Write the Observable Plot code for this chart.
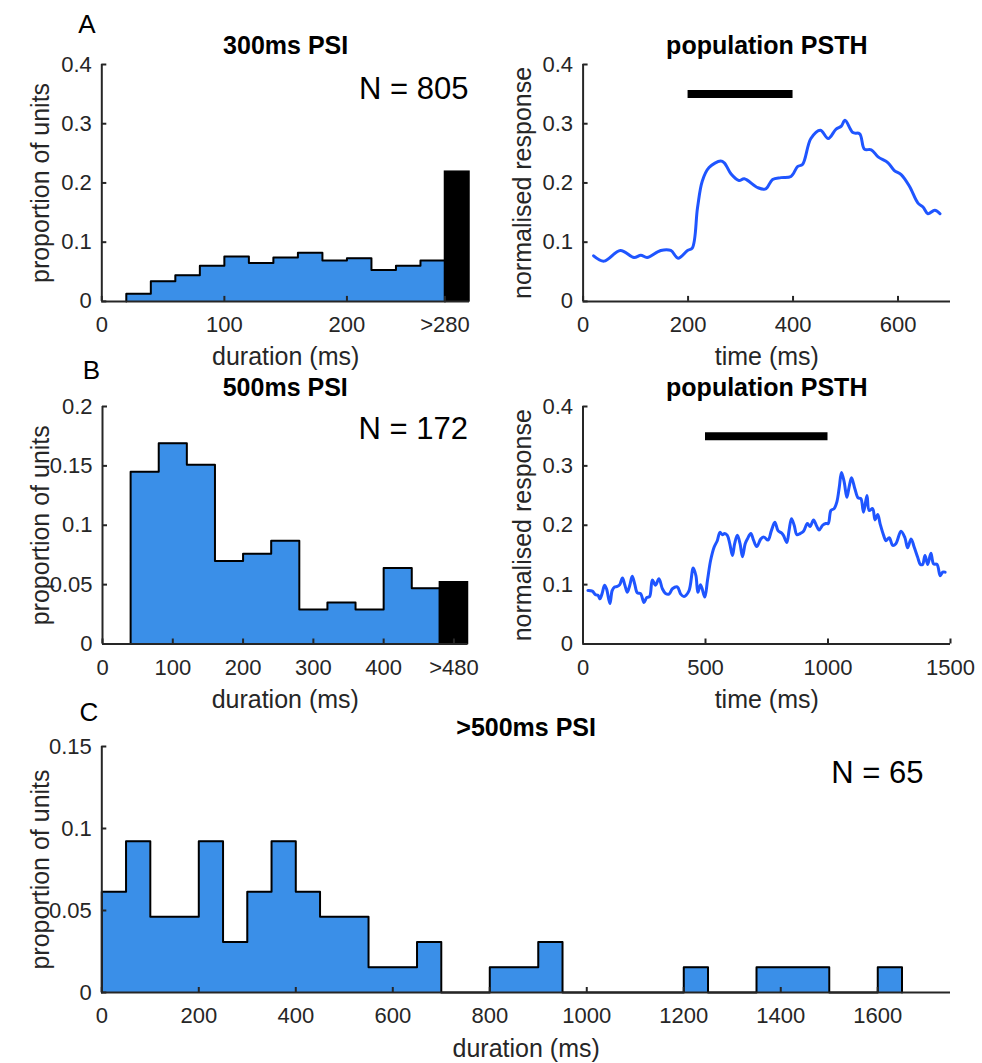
<!DOCTYPE html>
<html><head><meta charset="utf-8">
<script src="https://cdn.jsdelivr.net/npm/d3@7"></script>
<script src="https://cdn.jsdelivr.net/npm/@observablehq/plot@0.6"></script>
<style>
body{margin:0;background:#fff;}
#page{position:relative;width:982px;height:1063px;overflow:hidden;background:#fff;}
.pnl{position:absolute;}
.pnl svg{overflow:visible;}
</style></head><body><div id="page"></div>
<script>
// ---------- DATA ----------
// A: 300ms PSI histogram (bins of 20 ms)
const psi300BinStart = [20,40,60,80,100,120,140,160,180,200,220,240,260];
const psi300BinEnd   = [40,60,80,100,120,140,160,180,200,220,240,260,280];
const psi300Prop     = [0.013,0.034,0.044,0.060,0.076,0.065,0.074,0.082,0.069,0.073,0.053,0.060,0.069];
const psi300Overflow = [280,300,0.219];         // bin start, bin end, proportion (">280")
const psi300N = "N = 805";
const psi300XTicks = [0,100,200,280];
const psi300XLabels = ["0","100","200",">280"];
const psi300YTicks = [0,0.1,0.2,0.3,0.4];

// A: population PSTH (time ms, normalised response)
const psthA = [[20,0.077],[40,0.068],[71,0.086],[97,0.074],[110,0.078],[122,0.074],[148,0.086],[167,0.086],
 [181,0.073],[199,0.086],[208,0.090],[218,0.158],[227,0.203],[240,0.226],[262,0.237],[269,0.234],[282,0.215],
 [297,0.204],[307,0.207],[333,0.192],[348,0.190],[361,0.206],[377,0.209],[396,0.211],[409,0.228],[418,0.231],
 [434,0.275],[452,0.289],[467,0.275],[482,0.291],[492,0.296],[499,0.306],[514,0.285],[527,0.283],[536,0.257],
 [549,0.256],[562,0.244],[581,0.234],[593,0.221],[606,0.214],[622,0.194],[638,0.166],[648,0.159],[657,0.148],
 [670,0.154],[680,0.148]];
const stimA = [200,400,0.35];
const psthAXTicks = [0,200,400,600];
const psthYTicks = [0,0.1,0.2,0.3,0.4];

// B: 500ms PSI histogram (bins of 40 ms)
const psi500BinStart = [40,80,120,160,200,240,280,320,360,400,440];
const psi500BinEnd   = [80,120,160,200,240,280,320,360,400,440,480];
const psi500Prop     = [0.145,0.169,0.151,0.070,0.076,0.087,0.029,0.035,0.029,0.064,0.047];
const psi500Overflow = [480,520,0.052];
const psi500N = "N = 172";
const psi500XTicks = [0,100,200,300,400,500];
const psi500XLabels = ["0","100","200","300","400",">480"];
const psi500YTicks = [0,0.05,0.1,0.15,0.2];

// B: population PSTH
const psthB = [[20,0.090],[38,0.089],[51,0.083],[61,0.082],[69,0.076],[78,0.085],[88,0.099],[96,0.093],[110,0.068],
 [119,0.090],[129,0.096],[140,0.097],[150,0.100],[161,0.111],[171,0.099],[181,0.087],[191,0.099],[201,0.114],
 [211,0.101],[222,0.086],[235,0.085],[249,0.070],[260,0.078],[272,0.080],[283,0.108],[296,0.099],[310,0.110],
 [324,0.093],[337,0.085],[351,0.084],[365,0.093],[385,0.096],[399,0.084],[412,0.080],[432,0.089],[450,0.128],
 [461,0.115],[469,0.087],[480,0.100],[497,0.079],[508,0.107],[521,0.141],[535,0.163],[548,0.174],[559,0.188],
 [569,0.184],[578,0.186],[589,0.183],[599,0.169],[610,0.149],[619,0.169],[630,0.183],[641,0.169],[651,0.147],
 [662,0.169],[671,0.177],[685,0.186],[696,0.175],[709,0.164],[726,0.177],[739,0.180],[755,0.175],[769,0.191],
 [783,0.205],[796,0.191],[810,0.187],[818,0.183],[832,0.171],[841,0.191],[851,0.211],[862,0.200],[873,0.184],
 [886,0.186],[900,0.190],[916,0.203],[927,0.198],[941,0.209],[952,0.200],[964,0.192],[978,0.200],[991,0.203],
 [1001,0.203],[1012,0.225],[1025,0.228],[1036,0.239],[1046,0.264],[1055,0.289],[1066,0.273],[1077,0.247],
 [1086,0.264],[1096,0.280],[1110,0.261],[1123,0.246],[1134,0.245],[1145,0.222],[1159,0.250],[1168,0.225],
 [1182,0.228],[1192,0.209],[1203,0.218],[1213,0.202],[1227,0.183],[1237,0.174],[1250,0.179],[1264,0.166],
 [1277,0.169],[1298,0.190],[1314,0.179],[1325,0.162],[1339,0.177],[1352,0.163],[1366,0.146],[1377,0.134],
 [1386,0.134],[1396,0.149],[1407,0.134],[1420,0.153],[1431,0.135],[1445,0.134],[1458,0.115],[1468,0.121],[1478,0.121]];
const stimB = [500,1000,0.35];
const psthBXTicks = [0,500,1000,1500];

// C: >500ms PSI histogram (bins of 50 ms)
const psiLongBinStart = [0,50,100,150,200,250,300,350,400,450,500,550,600,650,700,750,800,850,900,950,1000,1050,1100,1150,1200,1250,1300,1350,1400,1450,1500,1550,1600];
const psiLongProp = [0.0615,0.0923,0.0462,0.0462,0.0923,0.0308,0.0615,0.0923,0.0615,0.0462,0.0462,0.0154,0.0154,0.0308,0,0,0.0154,0.0154,0.0308,0,0,0,0,0,0.0154,0,0,0.0154,0.0154,0.0154,0,0,0.0154];
const psiLongBinWidth = 50;
const psiLongN = "N = 65";
const psiLongXTicks = [0,200,400,600,800,1000,1200,1400,1600];
const psiLongYTicks = [0,0.05,0.1,0.15];

// ---------- STYLE ----------
const AX = "#262626";
const FONT = '"Liberation Sans", Arial, Helvetica, sans-serif';
const BAR = "#3a8fe8";
const LINE = "#1f55ff";

function histMarks(starts, ends, props, overflow) {
  const bins = starts.map((s, i) => ({x1: s, x2: ends[i], v: props[i]}));
  const pts = [{x: starts[0], y: 0}];
  bins.forEach(b => pts.push({x: b.x1, y: b.v}));
  pts.push({x: bins[bins.length - 1].x2, y: bins[bins.length - 1].v});
  pts.push({x: bins[bins.length - 1].x2, y: 0});
  const marks = [
    Plot.areaY(pts, {x: "x", y: "y", curve: "step-after", fill: BAR}),
    Plot.line(pts, {x: "x", y: "y", curve: "step-after", stroke: "black", strokeWidth: 2})
  ];
  if (overflow) {
    marks.push(Plot.rect([{x1: overflow[0], x2: overflow[1], v: overflow[2]}],
      {x1: "x1", x2: "x2", y1: 0, y2: "v", fill: "black", stroke: "black", strokeWidth: 1.5}));
  }
  return marks;
}

function psthMarks(series, stim) {
  return [
    Plot.ruleY([stim[2]], {x1: stim[0], x2: stim[1], stroke: "black", strokeWidth: 8}),
    Plot.line(series, {x: d => d[0], y: d => d[1], stroke: LINE, strokeWidth: 3, curve: "catmull-rom"})
  ];
}

function panel(o) {
  const fw = o.width - o.mL - o.mR, fh = o.height - o.mT - o.mB;
  const xLab = new Map(o.xTicks.map((t, i) => [t, o.xLabels ? o.xLabels[i] : String(t)]));
  const marks = [
    ...o.marks,
    Plot.ruleX([o.xDomain[0]], {stroke: AX, strokeWidth: 2}),
    Plot.ruleY([o.yDomain[0]], {stroke: AX, strokeWidth: 2}),
    Plot.tickY(o.yTicks, {y: d => d, stroke: AX, strokeWidth: 2, insetRight: fw - 5}),
    Plot.tickX(o.xTicks, {x: d => d, stroke: AX, strokeWidth: 2, insetTop: fh - 5}),
    Plot.axisX(o.xTicks, {tickSize: 0, tickPadding: 15, tickFormat: d => xLab.get(d), fontSize: 22, label: null, fill: AX}),
    Plot.axisY(o.yTicks, {tickSize: 0, tickPadding: 10, tickFormat: d => String(d), fontSize: 22, label: null, fill: AX}),
    Plot.text([o.title], {frameAnchor: "top", dy: -19, text: d => d, fontSize: 25, fontWeight: "bold", fill: "black", lineAnchor: "middle"}),
    Plot.text([o.xLabel], {frameAnchor: "bottom", dy: 56, text: d => d, fontSize: 25, fill: AX, lineAnchor: "middle"}),
    Plot.text([o.yLabel], {frameAnchor: "left", dx: o.yLabelDx, rotate: -90, text: d => d, fontSize: 25, fill: AX, lineAnchor: "middle", textAnchor: "middle"})
  ];
  if (o.nText) marks.push(Plot.text([o.nText], {frameAnchor: "top-right", dx: o.nDx, dy: o.nDy, text: d => d, fontSize: 31, fill: "black", textAnchor: "end", lineAnchor: "middle"}));
  if (o.letter) marks.push(Plot.text([o.letter], {frameAnchor: "top-left", dx: o.letterDx, dy: o.letterDy, text: d => d, fontSize: 26, fill: "black", textAnchor: "middle", lineAnchor: "middle"}));
  const chart = Plot.plot({
    width: o.width, height: o.height,
    marginLeft: o.mL, marginRight: o.mR, marginTop: o.mT, marginBottom: o.mB,
    x: {domain: o.xDomain}, y: {domain: o.yDomain},
    style: {fontFamily: FONT, background: "transparent", color: AX, overflow: "visible"},
    marks
  });
  const div = document.createElement("div");
  div.className = "pnl";
  div.style.left = o.left + "px";
  div.style.top = o.top + "px";
  div.appendChild(chart);
  document.getElementById("page").appendChild(div);
}

// A left
panel({left: 0, top: 0, width: 490, height: 375, mL: 101.3, mR: 21, mT: 64, mB: 74.1,
  xDomain: [0, 300], yDomain: [0, 0.4], xTicks: psi300XTicks, xLabels: psi300XLabels, yTicks: psi300YTicks,
  marks: histMarks(psi300BinStart, psi300BinEnd, psi300Prop, psi300Overflow),
  title: "300ms PSI", xLabel: "duration (ms)", yLabel: "proportion of units", yLabelDx: -61,
  nText: psi300N, nDx: -1, nDy: 25, letter: "A", letterDx: -15, letterDy: -40});
// A right
panel({left: 490, top: 0, width: 492, height: 375, mL: 92.6, mR: 32, mT: 64, mB: 74.1,
  xDomain: [0, 700], yDomain: [0, 0.4], xTicks: psthAXTicks, yTicks: psthYTicks,
  marks: psthMarks(psthA, stimA),
  title: "population PSTH", xLabel: "time (ms)", yLabel: "normalised response", yLabelDx: -60.5});
// B left
panel({left: 0, top: 375, width: 490, height: 340, mL: 102, mR: 22.5, mT: 31, mB: 71.5,
  xDomain: [0, 520], yDomain: [0, 0.2], xTicks: psi500XTicks, xLabels: psi500XLabels, yTicks: psi500YTicks,
  marks: histMarks(psi500BinStart, psi500BinEnd, psi500Prop, psi500Overflow),
  title: "500ms PSI", xLabel: "duration (ms)", yLabel: "proportion of units", yLabelDx: -62,
  nText: psi500N, nDx: 0, nDy: 23, letter: "B", letterDx: -11, letterDy: -36});
// B right
panel({left: 490, top: 375, width: 492, height: 340, mL: 92.5, mR: 32, mT: 31, mB: 71.5,
  xDomain: [0, 1500], yDomain: [0, 0.4], xTicks: psthBXTicks, yTicks: psthYTicks,
  marks: psthMarks(psthB, stimB),
  title: "population PSTH", xLabel: "time (ms)", yLabel: "normalised response", yLabelDx: -60.5});
// C
panel({left: 0, top: 715, width: 982, height: 348, mL: 101.3, mR: 32, mT: 31, mB: 71,
  xDomain: [0, 1750], yDomain: [0, 0.15], xTicks: psiLongXTicks, yTicks: psiLongYTicks,
  marks: histMarks(psiLongBinStart, psiLongBinStart.map(s => s + psiLongBinWidth), psiLongProp, null),
  title: ">500ms PSI", xLabel: "duration (ms)", yLabel: "proportion of units", yLabelDx: -61,
  nText: psiLongN, nDx: -27, nDy: 27, letter: "C", letterDx: -13, letterDy: -34});
</script></body></html>
